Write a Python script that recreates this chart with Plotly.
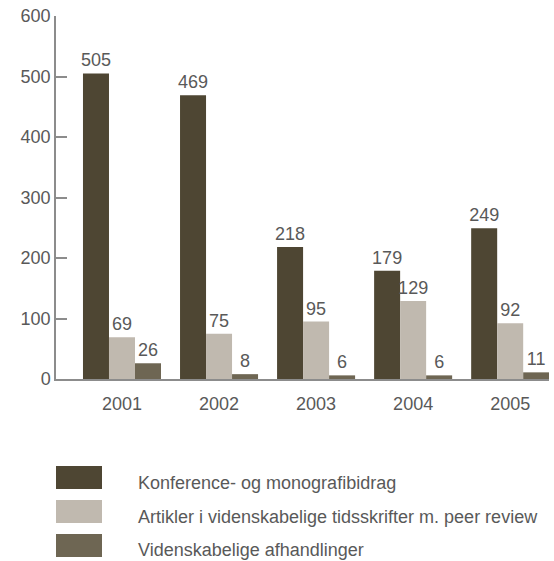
import plotly.graph_objects as go

# Publication counts per year
years = ["2001", "2002", "2003", "2004", "2005"]
konference = [505, 469, 218, 179, 249]
artikler = [69, 75, 95, 129, 92]
afhandlinger = [26, 8, 6, 6, 11]

series_names = [
    "Konference- og monografibidrag",
    "Artikler i videnskabelige tidsskrifter m. peer review",
    "Videnskabelige afhandlinger",
]
series_values = [konference, artikler, afhandlinger]
series_colors = ["#4e4633", "#c0b9af", "#6e6653"]

y_ticks = [0, 100, 200, 300, 400, 500, 600]

FONT = "Liberation Sans, Arial, sans-serif"
TEXT_COLOR = "#595959"
AXIS_COLOR = "#8c8c8c"

fig = go.Figure()
for name, vals, col in zip(series_names, series_values, series_colors):
    fig.add_trace(go.Bar(
        x=years, y=vals, name=name,
        marker=dict(color=col, line=dict(width=0)),
        text=vals, texttemplate="%{text}", textposition="outside",
        constraintext="none",
        textfont=dict(family=FONT, size=18, color=TEXT_COLOR),
        cliponaxis=False, showlegend=False,
    ))

# Hand-built legend: large swatches with labels to the right
row_y = [(-0.2397, -0.3030), (-0.3333, -0.3967), (-0.4270, -0.4904)]
text_y = [-0.2865, -0.3802, -0.4711]
for (y1, y0), ty, name, col in zip(row_y, text_y, series_names, series_colors):
    fig.add_shape(type="rect", xref="paper", yref="paper",
                  x0=0, x1=0.0933, y0=y0, y1=y1,
                  fillcolor=col, line=dict(width=0))
    fig.add_annotation(xref="paper", yref="paper", x=0.1623, y=ty,
                       xanchor="left", yanchor="middle", showarrow=False,
                       text=name, font=dict(family=FONT, size=18, color=TEXT_COLOR))

fig.update_layout(
    width=554, height=561,
    margin=dict(l=56, r=5, t=16, b=182),
    paper_bgcolor="white", plot_bgcolor="white",
    barmode="group", bargap=0.196, bargroupgap=0,
    font=dict(family=FONT, color=TEXT_COLOR),
    xaxis=dict(
        type="category", range=[-0.68, 4.40],
        showline=True, linecolor=AXIS_COLOR, linewidth=1.5,
        ticks="", showgrid=False, zeroline=False,
        tickfont=dict(family=FONT, size=18, color=TEXT_COLOR),
        ticklabelstandoff=8,
    ),
    yaxis=dict(
        range=[0, 600], tickmode="array", tickvals=y_ticks,
        showline=True, linecolor=AXIS_COLOR, linewidth=1.5,
        ticks="inside", ticklen=11, tickcolor=AXIS_COLOR, tickwidth=1.5,
        showgrid=False, zeroline=False,
        tickfont=dict(family=FONT, size=18, color=TEXT_COLOR),
        ticksuffix="  ",
    ),
)

fig.write_html("out.html")
